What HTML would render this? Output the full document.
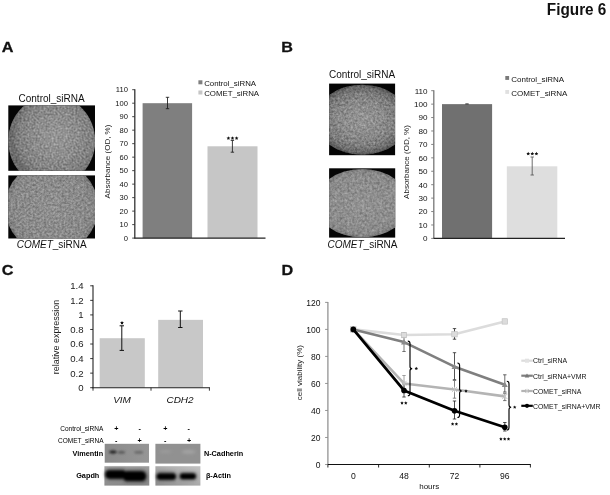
<!DOCTYPE html>
<html><head><meta charset="utf-8"><title>Figure 6</title>
<style>
html,body{margin:0;padding:0;background:#fff;}
body{width:610px;height:495px;overflow:hidden;font-family:"Liberation Sans",sans-serif;}
svg{display:block;filter:grayscale(1);font-family:"Liberation Sans",sans-serif;}
</style></head><body>
<svg width="610" height="495" viewBox="0 0 610 495">
<defs>
<filter id="nA1" x="0" y="0" width="100%" height="100%" color-interpolation-filters="sRGB">
<feTurbulence type="fractalNoise" baseFrequency="0.5" numOctaves="2" seed="3" result="t"/>
<feColorMatrix in="t" type="matrix" values="0.42 0 0 0 0.315  0.42 0 0 0 0.315  0.42 0 0 0 0.315   0 0 0 0 1" result="g"/>
<feComposite in="g" in2="SourceGraphic" operator="in"/>
</filter>
<filter id="nA2" x="0" y="0" width="100%" height="100%" color-interpolation-filters="sRGB">
<feTurbulence type="fractalNoise" baseFrequency="0.45" numOctaves="2" seed="11" result="t"/>
<feColorMatrix in="t" type="matrix" values="0.36 0 0 0 0.365  0.36 0 0 0 0.365  0.36 0 0 0 0.365   0 0 0 0 1" result="g"/>
<feComposite in="g" in2="SourceGraphic" operator="in"/>
</filter>
<filter id="nB1" x="0" y="0" width="100%" height="100%" color-interpolation-filters="sRGB">
<feTurbulence type="fractalNoise" baseFrequency="0.45" numOctaves="2" seed="7" result="t"/>
<feColorMatrix in="t" type="matrix" values="0.42 0 0 0 0.305  0.42 0 0 0 0.305  0.42 0 0 0 0.305   0 0 0 0 1" result="g"/>
<feComposite in="g" in2="SourceGraphic" operator="in"/>
</filter>
<filter id="nB2" x="0" y="0" width="100%" height="100%" color-interpolation-filters="sRGB">
<feTurbulence type="fractalNoise" baseFrequency="0.4" numOctaves="2" seed="19" result="t"/>
<feColorMatrix in="t" type="matrix" values="0.34 0 0 0 0.385  0.34 0 0 0 0.385  0.34 0 0 0 0.385   0 0 0 0 1" result="g"/>
<feComposite in="g" in2="SourceGraphic" operator="in"/>
</filter>

<filter id="b1" x="-30%" y="-80%" width="160%" height="260%"><feGaussianBlur stdDeviation="1.1"/></filter>
<filter id="b2" x="-30%" y="-80%" width="160%" height="260%"><feGaussianBlur stdDeviation="1.5"/></filter>
<linearGradient id="gV" x1="0" y1="0" x2="1" y2="0"><stop offset="0" stop-color="#8a8a8a"/><stop offset="1" stop-color="#969696"/></linearGradient>
<linearGradient id="gG" x1="0" y1="0" x2="0.3" y2="1"><stop offset="0" stop-color="#a4a4a4"/><stop offset="1" stop-color="#8a8a8a"/></linearGradient>
<linearGradient id="gA" x1="0" y1="1" x2="1" y2="0"><stop offset="0" stop-color="#8c8c8c"/><stop offset="0.6" stop-color="#b0b0b0"/><stop offset="1" stop-color="#c2c2c2"/></linearGradient>
<radialGradient id="vc" cx="55%" cy="45%" r="50%"><stop offset="0" stop-color="#fff" stop-opacity="0.14"/><stop offset="0.55" stop-color="#fff" stop-opacity="0.04"/><stop offset="0.8" stop-color="#000" stop-opacity="0.03"/><stop offset="0.93" stop-color="#000" stop-opacity="0.1"/><stop offset="1" stop-color="#000" stop-opacity="0.2"/></radialGradient>
<radialGradient id="vb" cx="50%" cy="50%" r="50%"><stop offset="0" stop-color="#fff" stop-opacity="0.14"/><stop offset="0.5" stop-color="#fff" stop-opacity="0.05"/><stop offset="0.75" stop-color="#000" stop-opacity="0.05"/><stop offset="0.92" stop-color="#000" stop-opacity="0.2"/><stop offset="1" stop-color="#000" stop-opacity="0.38"/></radialGradient>
<radialGradient id="vg" cx="50%" cy="50%" r="50%"><stop offset="0" stop-color="#fff" stop-opacity="0.05"/><stop offset="0.6" stop-color="#888" stop-opacity="0"/><stop offset="0.92" stop-color="#000" stop-opacity="0.05"/><stop offset="1" stop-color="#000" stop-opacity="0.16"/></radialGradient>
<clipPath id="cA1"><rect x="8.3" y="105.4" width="86.7" height="65.4"/></clipPath>
<clipPath id="cA2"><rect x="8.3" y="175.4" width="86.7" height="63.1"/></clipPath>
<clipPath id="cB1"><rect x="329.1" y="83.6" width="66.0" height="71.6"/></clipPath>
<clipPath id="cB2"><rect x="329.1" y="168.3" width="66.1" height="69.3"/></clipPath>
</defs>
<rect width="610" height="495" fill="#fff"/>

<text x="546.8" y="15.1" font-size="15.6" text-anchor="start" font-weight="bold" font-style="normal" fill="#111" textLength="59.6" lengthAdjust="spacingAndGlyphs">Figure 6</text>
<text x="1.8" y="51.9" font-size="15.5" text-anchor="start" font-weight="bold" font-style="normal" fill="#111" textLength="11.7" lengthAdjust="spacingAndGlyphs" stroke="#111" stroke-width="0.3">A</text>
<text x="281.2" y="51.9" font-size="15.5" text-anchor="start" font-weight="bold" font-style="normal" fill="#111" textLength="11.7" lengthAdjust="spacingAndGlyphs" stroke="#111" stroke-width="0.3">B</text>
<text x="1.8" y="275.2" font-size="15.5" text-anchor="start" font-weight="bold" font-style="normal" fill="#111" textLength="11.7" lengthAdjust="spacingAndGlyphs" stroke="#111" stroke-width="0.3">C</text>
<text x="281.4" y="275.2" font-size="15.5" text-anchor="start" font-weight="bold" font-style="normal" fill="#111" textLength="11.7" lengthAdjust="spacingAndGlyphs" stroke="#111" stroke-width="0.3">D</text>
<text x="51.6" y="102" font-size="10" text-anchor="middle" font-weight="normal" font-style="normal" fill="#111" >Control_siRNA</text>
<rect x="8.3" y="105.4" width="86.7" height="65.4" fill="#050505"/>
<g clip-path="url(#cA1)"><ellipse cx="51.7" cy="141" rx="43.5" ry="45.6" fill="#fff" filter="url(#nA1)"/><ellipse cx="51.7" cy="141" rx="43.5" ry="45.6" fill="url(#vc)"/></g>
<rect x="8.3" y="175.4" width="86.7" height="63.1" fill="#050505"/>
<g clip-path="url(#cA2)"><ellipse cx="51.6" cy="207.3" rx="46.5" ry="46.5" fill="#fff" filter="url(#nA2)"/><ellipse cx="51.6" cy="207.3" rx="46.5" ry="46.5" fill="url(#vg)"/></g>
<text x="51.7" y="247.7" font-size="10" text-anchor="middle" fill="#111"><tspan font-style="italic">COMET</tspan>_siRNA</text>
<rect x="142.6" y="103.19" width="49.50" height="134.91" fill="#7f7f7f"/>
<rect x="207.5" y="146.29" width="50.00" height="91.81" fill="#c6c6c6"/>
<line x1="134.8" y1="89.3" x2="134.8" y2="238.6" stroke="#333" stroke-width="1.3" />
<line x1="134.3" y1="238.1" x2="265.5" y2="238.1" stroke="#222" stroke-width="1.1" />
<line x1="132.20000000000002" y1="238.10" x2="134.8" y2="238.10" stroke="#333" stroke-width="0.9" />
<text x="127.9" y="240.84" font-size="7.6" text-anchor="end" font-weight="normal" font-style="normal" fill="#111" >0</text>
<line x1="132.20000000000002" y1="224.61" x2="134.8" y2="224.61" stroke="#333" stroke-width="0.9" />
<text x="127.9" y="227.35" font-size="7.6" text-anchor="end" font-weight="normal" font-style="normal" fill="#111" >10</text>
<line x1="132.20000000000002" y1="211.12" x2="134.8" y2="211.12" stroke="#333" stroke-width="0.9" />
<text x="127.9" y="213.85" font-size="7.6" text-anchor="end" font-weight="normal" font-style="normal" fill="#111" >20</text>
<line x1="132.20000000000002" y1="197.63" x2="134.8" y2="197.63" stroke="#333" stroke-width="0.9" />
<text x="127.9" y="200.36" font-size="7.6" text-anchor="end" font-weight="normal" font-style="normal" fill="#111" >30</text>
<line x1="132.20000000000002" y1="184.14" x2="134.8" y2="184.14" stroke="#333" stroke-width="0.9" />
<text x="127.9" y="186.87" font-size="7.6" text-anchor="end" font-weight="normal" font-style="normal" fill="#111" >40</text>
<line x1="132.20000000000002" y1="170.65" x2="134.8" y2="170.65" stroke="#333" stroke-width="0.9" />
<text x="127.9" y="173.38" font-size="7.6" text-anchor="end" font-weight="normal" font-style="normal" fill="#111" >50</text>
<line x1="132.20000000000002" y1="157.15" x2="134.8" y2="157.15" stroke="#333" stroke-width="0.9" />
<text x="127.9" y="159.89" font-size="7.6" text-anchor="end" font-weight="normal" font-style="normal" fill="#111" >60</text>
<line x1="132.20000000000002" y1="143.66" x2="134.8" y2="143.66" stroke="#333" stroke-width="0.9" />
<text x="127.9" y="146.40" font-size="7.6" text-anchor="end" font-weight="normal" font-style="normal" fill="#111" >70</text>
<line x1="132.20000000000002" y1="130.17" x2="134.8" y2="130.17" stroke="#333" stroke-width="0.9" />
<text x="127.9" y="132.91" font-size="7.6" text-anchor="end" font-weight="normal" font-style="normal" fill="#111" >80</text>
<line x1="132.20000000000002" y1="116.68" x2="134.8" y2="116.68" stroke="#333" stroke-width="0.9" />
<text x="127.9" y="119.42" font-size="7.6" text-anchor="end" font-weight="normal" font-style="normal" fill="#111" >90</text>
<line x1="132.20000000000002" y1="103.19" x2="134.8" y2="103.19" stroke="#333" stroke-width="0.9" />
<text x="127.9" y="105.93" font-size="7.6" text-anchor="end" font-weight="normal" font-style="normal" fill="#111" >100</text>
<line x1="132.20000000000002" y1="89.70" x2="134.8" y2="89.70" stroke="#333" stroke-width="0.9" />
<text x="127.9" y="92.44" font-size="7.6" text-anchor="end" font-weight="normal" font-style="normal" fill="#111" >110</text>
<line x1="167.5" y1="97.3" x2="167.5" y2="108.7" stroke="#1a1a1a" stroke-width="0.85" /><line x1="165.8" y1="97.3" x2="169.2" y2="97.3" stroke="#1a1a1a" stroke-width="0.85" /><line x1="165.8" y1="108.7" x2="169.2" y2="108.7" stroke="#1a1a1a" stroke-width="0.85" />
<line x1="232.4" y1="140.4" x2="232.4" y2="152.2" stroke="#1a1a1a" stroke-width="0.85" /><line x1="230.70000000000002" y1="140.4" x2="234.1" y2="140.4" stroke="#1a1a1a" stroke-width="0.85" /><line x1="230.70000000000002" y1="152.2" x2="234.1" y2="152.2" stroke="#1a1a1a" stroke-width="0.85" />
<polygon points="228.40,136.25 228.97,137.41 230.25,137.60 229.33,138.50 229.55,139.78 228.40,139.17 227.25,139.78 227.47,138.50 226.55,137.60 227.83,137.41" fill="#111"/><polygon points="232.50,136.25 233.07,137.41 234.35,137.60 233.43,138.50 233.65,139.78 232.50,139.17 231.35,139.78 231.57,138.50 230.65,137.60 231.93,137.41" fill="#111"/><polygon points="236.60,136.25 237.17,137.41 238.45,137.60 237.53,138.50 237.75,139.78 236.60,139.17 235.45,139.78 235.67,138.50 234.75,137.60 236.03,137.41" fill="#111"/>
<text transform="translate(109.8,161.5) rotate(-90)" font-size="8" text-anchor="middle" fill="#1a1a1a">Absorbance (OD, %)</text>
<rect x="198.4" y="80.3" width="4" height="4" fill="#7f7f7f"/>
<text x="204.2" y="85.5" font-size="7.85" text-anchor="start" font-weight="normal" font-style="normal" fill="#111" >Control_siRNA</text>
<rect x="198.4" y="90.5" width="4" height="4" fill="#c6c6c6"/>
<text x="204.2" y="95.8" font-size="7.85" text-anchor="start" font-weight="normal" font-style="normal" fill="#111" >COMET_siRNA</text>
<text x="362.1" y="78" font-size="10" text-anchor="middle" font-weight="normal" font-style="normal" fill="#111" >Control_siRNA</text>
<rect x="329.1" y="83.6" width="66" height="71.6" fill="#050505"/>
<g clip-path="url(#cB1)"><ellipse cx="362.1" cy="119.7" rx="46.5" ry="35.0" fill="#fff" filter="url(#nB1)"/><ellipse cx="362.1" cy="119.7" rx="46.5" ry="35.0" fill="url(#vb)"/></g>
<rect x="329.1" y="168.3" width="66.1" height="69.3" fill="#050505"/>
<g clip-path="url(#cB2)"><ellipse cx="362.1" cy="203.2" rx="46.5" ry="34.2" fill="#fff" filter="url(#nB2)"/><ellipse cx="362.1" cy="203.2" rx="46.5" ry="34.2" fill="url(#vg)"/></g>
<text x="362.5" y="247.5" font-size="10" text-anchor="middle" fill="#111"><tspan font-style="italic">COMET</tspan>_siRNA</text>
<rect x="442" y="104.13" width="50.10" height="134.27" fill="#707070"/>
<rect x="506.8" y="166.30" width="50.50" height="72.10" fill="#dedede"/>
<line x1="433.8" y1="90.3" x2="433.8" y2="238.9" stroke="#777" stroke-width="1.3" />
<line x1="433.3" y1="238.4" x2="565" y2="238.4" stroke="#222" stroke-width="1.1" />
<line x1="431.2" y1="238.40" x2="433.8" y2="238.40" stroke="#777" stroke-width="0.9" />
<text x="427.6" y="241.32" font-size="8.1" text-anchor="end" font-weight="normal" font-style="normal" fill="#111" >0</text>
<line x1="431.2" y1="224.97" x2="433.8" y2="224.97" stroke="#777" stroke-width="0.9" />
<text x="427.6" y="227.89" font-size="8.1" text-anchor="end" font-weight="normal" font-style="normal" fill="#111" >10</text>
<line x1="431.2" y1="211.55" x2="433.8" y2="211.55" stroke="#777" stroke-width="0.9" />
<text x="427.6" y="214.46" font-size="8.1" text-anchor="end" font-weight="normal" font-style="normal" fill="#111" >20</text>
<line x1="431.2" y1="198.12" x2="433.8" y2="198.12" stroke="#777" stroke-width="0.9" />
<text x="427.6" y="201.03" font-size="8.1" text-anchor="end" font-weight="normal" font-style="normal" fill="#111" >30</text>
<line x1="431.2" y1="184.69" x2="433.8" y2="184.69" stroke="#777" stroke-width="0.9" />
<text x="427.6" y="187.61" font-size="8.1" text-anchor="end" font-weight="normal" font-style="normal" fill="#111" >40</text>
<line x1="431.2" y1="171.26" x2="433.8" y2="171.26" stroke="#777" stroke-width="0.9" />
<text x="427.6" y="174.18" font-size="8.1" text-anchor="end" font-weight="normal" font-style="normal" fill="#111" >50</text>
<line x1="431.2" y1="157.84" x2="433.8" y2="157.84" stroke="#777" stroke-width="0.9" />
<text x="427.6" y="160.75" font-size="8.1" text-anchor="end" font-weight="normal" font-style="normal" fill="#111" >60</text>
<line x1="431.2" y1="144.41" x2="433.8" y2="144.41" stroke="#777" stroke-width="0.9" />
<text x="427.6" y="147.33" font-size="8.1" text-anchor="end" font-weight="normal" font-style="normal" fill="#111" >70</text>
<line x1="431.2" y1="130.98" x2="433.8" y2="130.98" stroke="#777" stroke-width="0.9" />
<text x="427.6" y="133.90" font-size="8.1" text-anchor="end" font-weight="normal" font-style="normal" fill="#111" >80</text>
<line x1="431.2" y1="117.55" x2="433.8" y2="117.55" stroke="#777" stroke-width="0.9" />
<text x="427.6" y="120.47" font-size="8.1" text-anchor="end" font-weight="normal" font-style="normal" fill="#111" >90</text>
<line x1="431.2" y1="104.13" x2="433.8" y2="104.13" stroke="#777" stroke-width="0.9" />
<text x="427.6" y="107.04" font-size="8.1" text-anchor="end" font-weight="normal" font-style="normal" fill="#111" >100</text>
<line x1="431.2" y1="90.70" x2="433.8" y2="90.70" stroke="#777" stroke-width="0.9" />
<text x="427.6" y="93.62" font-size="8.1" text-anchor="end" font-weight="normal" font-style="normal" fill="#111" >110</text>
<line x1="467" y1="103.7" x2="467" y2="104.5" stroke="#555" stroke-width="0.85" /><line x1="465.3" y1="103.7" x2="468.7" y2="103.7" stroke="#555" stroke-width="0.85" /><line x1="465.3" y1="104.5" x2="468.7" y2="104.5" stroke="#555" stroke-width="0.85" />
<line x1="532.2" y1="157" x2="532.2" y2="175" stroke="#555" stroke-width="0.85" /><line x1="530.5" y1="157" x2="533.9000000000001" y2="157" stroke="#555" stroke-width="0.85" /><line x1="530.5" y1="175" x2="533.9000000000001" y2="175" stroke="#555" stroke-width="0.85" />
<polygon points="528.20,151.75 528.77,152.91 530.05,153.10 529.13,154.00 529.35,155.28 528.20,154.67 527.05,155.28 527.27,154.00 526.35,153.10 527.63,152.91" fill="#111"/><polygon points="532.30,151.75 532.87,152.91 534.15,153.10 533.23,154.00 533.45,155.28 532.30,154.67 531.15,155.28 531.37,154.00 530.45,153.10 531.73,152.91" fill="#111"/><polygon points="536.40,151.75 536.97,152.91 538.25,153.10 537.33,154.00 537.55,155.28 536.40,154.67 535.25,155.28 535.47,154.00 534.55,153.10 535.83,152.91" fill="#111"/>
<text transform="translate(409,162) rotate(-90)" font-size="8" text-anchor="middle" fill="#1a1a1a">Absorbance (OD, %)</text>
<rect x="505.3" y="76" width="3.8" height="3.9" fill="#7a7a7a"/>
<text x="511.3" y="81.8" font-size="8" text-anchor="start" font-weight="normal" font-style="normal" fill="#111" >Control_siRNA</text>
<rect x="505.3" y="90" width="3.8" height="3.9" fill="#e0e0e0"/>
<text x="511.3" y="95.6" font-size="8" text-anchor="start" font-weight="normal" font-style="normal" fill="#111" >COMET_siRNA</text>
<rect x="99.7" y="338.21" width="45.1" height="49.49" fill="#c8c8c8"/>
<rect x="158.2" y="319.86" width="44.8" height="67.84" fill="#c8c8c8"/>
<line x1="93" y1="285.3" x2="93" y2="388.2" stroke="#222" stroke-width="1.1" />
<line x1="92.5" y1="387.7" x2="209.9" y2="387.7" stroke="#222" stroke-width="1.1" />
<line x1="90.2" y1="387.70" x2="93" y2="387.70" stroke="#222" stroke-width="0.9" />
<text x="83.6" y="391.10" font-size="9.6" text-anchor="end" font-weight="normal" font-style="normal" fill="#1a1a1a" >0</text>
<line x1="90.2" y1="373.14" x2="93" y2="373.14" stroke="#222" stroke-width="0.9" />
<text x="83.6" y="376.54" font-size="9.6" text-anchor="end" font-weight="normal" font-style="normal" fill="#1a1a1a" >0.2</text>
<line x1="90.2" y1="358.59" x2="93" y2="358.59" stroke="#222" stroke-width="0.9" />
<text x="83.6" y="361.99" font-size="9.6" text-anchor="end" font-weight="normal" font-style="normal" fill="#1a1a1a" >0.4</text>
<line x1="90.2" y1="344.03" x2="93" y2="344.03" stroke="#222" stroke-width="0.9" />
<text x="83.6" y="347.43" font-size="9.6" text-anchor="end" font-weight="normal" font-style="normal" fill="#1a1a1a" >0.6</text>
<line x1="90.2" y1="329.47" x2="93" y2="329.47" stroke="#222" stroke-width="0.9" />
<text x="83.6" y="332.87" font-size="9.6" text-anchor="end" font-weight="normal" font-style="normal" fill="#1a1a1a" >0.8</text>
<line x1="90.2" y1="314.91" x2="93" y2="314.91" stroke="#222" stroke-width="0.9" />
<text x="83.6" y="318.31" font-size="9.6" text-anchor="end" font-weight="normal" font-style="normal" fill="#1a1a1a" >1</text>
<line x1="90.2" y1="300.36" x2="93" y2="300.36" stroke="#222" stroke-width="0.9" />
<text x="83.6" y="303.76" font-size="9.6" text-anchor="end" font-weight="normal" font-style="normal" fill="#1a1a1a" >1.2</text>
<line x1="90.2" y1="285.80" x2="93" y2="285.80" stroke="#222" stroke-width="0.9" />
<text x="83.6" y="289.20" font-size="9.6" text-anchor="end" font-weight="normal" font-style="normal" fill="#1a1a1a" >1.4</text>
<line x1="93" y1="387.7" x2="93" y2="390.7" stroke="#222" stroke-width="0.9" />
<line x1="151" y1="387.7" x2="151" y2="390.7" stroke="#222" stroke-width="0.9" />
<line x1="209.4" y1="387.7" x2="209.4" y2="390.7" stroke="#222" stroke-width="0.9" />
<line x1="121.8" y1="325.8" x2="121.8" y2="350.4" stroke="#111" stroke-width="1" /><line x1="119.6" y1="325.8" x2="124.0" y2="325.8" stroke="#111" stroke-width="1" /><line x1="119.6" y1="350.4" x2="124.0" y2="350.4" stroke="#111" stroke-width="1" />
<line x1="180.3" y1="311" x2="180.3" y2="327.5" stroke="#111" stroke-width="1" /><line x1="178.10000000000002" y1="311" x2="182.5" y2="311" stroke="#111" stroke-width="1" /><line x1="178.10000000000002" y1="327.5" x2="182.5" y2="327.5" stroke="#111" stroke-width="1" />
<polygon points="122.00,320.95 122.57,322.11 123.85,322.30 122.93,323.20 123.15,324.48 122.00,323.88 120.85,324.48 121.07,323.20 120.15,322.30 121.43,322.11" fill="#111"/>
<text transform="translate(59,374.2) rotate(-90)" font-size="8.4" textLength="74.3" lengthAdjust="spacingAndGlyphs" fill="#1a1a1a">relative expression</text>
<text x="113.2" y="403.3" font-size="8.8" text-anchor="start" font-weight="normal" font-style="italic" fill="#111" textLength="17.7" lengthAdjust="spacingAndGlyphs">VIM</text>
<text x="166.5" y="403.3" font-size="8.8" text-anchor="start" font-weight="normal" font-style="italic" fill="#111" textLength="27.1" lengthAdjust="spacingAndGlyphs">CDH2</text>
<text x="103.3" y="430.7" font-size="6.5" text-anchor="end" font-weight="normal" font-style="normal" fill="#000" >Control_siRNA</text>
<text x="103.5" y="442.5" font-size="6.5" text-anchor="end" font-weight="normal" font-style="normal" fill="#000" >COMET_siRNA</text>
<text x="116.3" y="431" font-size="7.2" text-anchor="middle" font-weight="bold" font-style="normal" fill="#000" >+</text>
<text x="139.7" y="431" font-size="7.2" text-anchor="middle" font-weight="bold" font-style="normal" fill="#000" >-</text>
<text x="165.3" y="431" font-size="7.2" text-anchor="middle" font-weight="bold" font-style="normal" fill="#000" >+</text>
<text x="188.8" y="431" font-size="7.2" text-anchor="middle" font-weight="bold" font-style="normal" fill="#000" >-</text>
<text x="116.3" y="442.6" font-size="7.2" text-anchor="middle" font-weight="bold" font-style="normal" fill="#000" >-</text>
<text x="139.6" y="442.6" font-size="7.2" text-anchor="middle" font-weight="bold" font-style="normal" fill="#000" >+</text>
<text x="165.3" y="442.6" font-size="7.2" text-anchor="middle" font-weight="bold" font-style="normal" fill="#000" >-</text>
<text x="189.2" y="442.6" font-size="7.2" text-anchor="middle" font-weight="bold" font-style="normal" fill="#000" >+</text>
<rect x="104.7" y="443.8" width="44.3" height="18.9" fill="url(#gV)"/>
<g filter="url(#b1)"><ellipse cx="113" cy="452" rx="3.8" ry="1.7" fill="#2a2a2a"/><ellipse cx="121.5" cy="452.2" rx="3.6" ry="1.5" fill="#5c5c5c"/><ellipse cx="138.7" cy="452.2" rx="4.6" ry="1.5" fill="#6a6a6a"/></g>
<rect x="104.4" y="466.2" width="44.9" height="19.4" fill="url(#gG)"/>
<g filter="url(#b2)" opacity="0.55"><rect x="104.5" y="468.6" width="23" height="11.6" rx="5" fill="#333"/><rect x="122" y="469.6" width="25.5" height="13.2" rx="5.5" fill="#333"/></g>
<g filter="url(#b1)"><rect x="105.6" y="470.6" width="20.5" height="7.8" rx="3.8" fill="#060606"/><rect x="123" y="471.4" width="22.8" height="9.4" rx="4.4" fill="#060606"/></g>
<rect x="155.4" y="443.8" width="45" height="19.8" fill="#919191"/>
<g filter="url(#b2)"><ellipse cx="165.4" cy="451.6" rx="6" ry="1.5" fill="#9c9c9c"/><ellipse cx="188.6" cy="451.8" rx="7" ry="2" fill="#a3a3a3"/></g>
<rect x="155.4" y="466.2" width="45" height="19.4" fill="url(#gA)"/>
<g filter="url(#b2)" opacity="0.5"><rect x="155.6" y="471.6" width="21.5" height="9.6" rx="4.5" fill="#333"/><rect x="178.6" y="472" width="18.5" height="8.6" rx="4" fill="#333"/></g>
<g filter="url(#b1)"><rect x="157" y="473.6" width="18.6" height="5.8" rx="2.9" fill="#050505"/><rect x="180.2" y="473.5" width="15.4" height="5.4" rx="2.7" fill="#050505"/></g>
<text x="103.1" y="455.7" font-size="7.3" text-anchor="end" font-weight="bold" font-style="normal" fill="#000" >Vimentin</text>
<text x="99.3" y="478.3" font-size="7.3" text-anchor="end" font-weight="bold" font-style="normal" fill="#000" >Gapdh</text>
<text x="203.9" y="455.7" font-size="7.3" text-anchor="start" font-weight="bold" font-style="normal" fill="#000" >N-Cadherin</text>
<text x="205.9" y="478.3" font-size="7.3" text-anchor="start" font-weight="bold" font-style="normal" fill="#000" >β-Actin</text>
<line x1="327.9" y1="302" x2="327.9" y2="465.0" stroke="#8a8a8a" stroke-width="1.2" />
<line x1="327.4" y1="464.5" x2="530.8" y2="464.5" stroke="#111" stroke-width="1.1" />
<line x1="325.09999999999997" y1="464.50" x2="327.9" y2="464.50" stroke="#8a8a8a" stroke-width="0.9" />
<text x="320.4" y="468.40" font-size="8.5" text-anchor="end" font-weight="normal" font-style="normal" fill="#111" >0</text>
<line x1="325.09999999999997" y1="437.48" x2="327.9" y2="437.48" stroke="#8a8a8a" stroke-width="0.9" />
<text x="320.4" y="441.38" font-size="8.5" text-anchor="end" font-weight="normal" font-style="normal" fill="#111" >20</text>
<line x1="325.09999999999997" y1="410.46" x2="327.9" y2="410.46" stroke="#8a8a8a" stroke-width="0.9" />
<text x="320.4" y="414.36" font-size="8.5" text-anchor="end" font-weight="normal" font-style="normal" fill="#111" >40</text>
<line x1="325.09999999999997" y1="383.44" x2="327.9" y2="383.44" stroke="#8a8a8a" stroke-width="0.9" />
<text x="320.4" y="387.34" font-size="8.5" text-anchor="end" font-weight="normal" font-style="normal" fill="#111" >60</text>
<line x1="325.09999999999997" y1="356.42" x2="327.9" y2="356.42" stroke="#8a8a8a" stroke-width="0.9" />
<text x="320.4" y="360.32" font-size="8.5" text-anchor="end" font-weight="normal" font-style="normal" fill="#111" >80</text>
<line x1="325.09999999999997" y1="329.40" x2="327.9" y2="329.40" stroke="#8a8a8a" stroke-width="0.9" />
<text x="320.4" y="333.30" font-size="8.5" text-anchor="end" font-weight="normal" font-style="normal" fill="#111" >100</text>
<line x1="325.09999999999997" y1="302.38" x2="327.9" y2="302.38" stroke="#8a8a8a" stroke-width="0.9" />
<text x="320.4" y="306.28" font-size="8.5" text-anchor="end" font-weight="normal" font-style="normal" fill="#111" >120</text>
<line x1="327.9" y1="464.5" x2="327.9" y2="467.5" stroke="#111" stroke-width="0.9" />
<line x1="378.6" y1="464.5" x2="378.6" y2="467.5" stroke="#111" stroke-width="0.9" />
<line x1="429.3" y1="464.5" x2="429.3" y2="467.5" stroke="#111" stroke-width="0.9" />
<line x1="479.9" y1="464.5" x2="479.9" y2="467.5" stroke="#111" stroke-width="0.9" />
<line x1="530.4" y1="464.5" x2="530.4" y2="467.5" stroke="#111" stroke-width="0.9" />
<text x="353.3" y="478.9" font-size="8.6" text-anchor="middle" font-weight="normal" font-style="normal" fill="#111" >0</text>
<text x="404" y="478.9" font-size="8.6" text-anchor="middle" font-weight="normal" font-style="normal" fill="#111" >48</text>
<text x="454.5" y="478.9" font-size="8.6" text-anchor="middle" font-weight="normal" font-style="normal" fill="#111" >72</text>
<text x="504.8" y="478.9" font-size="8.6" text-anchor="middle" font-weight="normal" font-style="normal" fill="#111" >96</text>
<text x="429.2" y="488.5" font-size="8" text-anchor="middle" font-weight="normal" font-style="normal" fill="#111" >hours</text>
<text transform="translate(301.8,372.6) rotate(-90)" font-size="8" text-anchor="middle" fill="#1a1a1a">cell viability (%)</text>
<line x1="404" y1="332.9" x2="404" y2="337.3" stroke="#444" stroke-width="0.8" /><line x1="402.3" y1="332.9" x2="405.7" y2="332.9" stroke="#444" stroke-width="0.8" /><line x1="402.3" y1="337.3" x2="405.7" y2="337.3" stroke="#444" stroke-width="0.8" />
<line x1="454.5" y1="328.6" x2="454.5" y2="339.2" stroke="#222" stroke-width="0.8" /><line x1="452.8" y1="328.6" x2="456.2" y2="328.6" stroke="#222" stroke-width="0.8" /><line x1="452.8" y1="339.2" x2="456.2" y2="339.2" stroke="#222" stroke-width="0.8" />
<line x1="504.8" y1="319.9" x2="504.8" y2="322.9" stroke="#666" stroke-width="0.8" /><line x1="503.1" y1="319.9" x2="506.5" y2="319.9" stroke="#666" stroke-width="0.8" /><line x1="503.1" y1="322.9" x2="506.5" y2="322.9" stroke="#666" stroke-width="0.8" />
<line x1="404" y1="337.0" x2="404" y2="351.5" stroke="#555" stroke-width="0.8" /><line x1="402.3" y1="337.0" x2="405.7" y2="337.0" stroke="#555" stroke-width="0.8" /><line x1="402.3" y1="351.5" x2="405.7" y2="351.5" stroke="#555" stroke-width="0.8" />
<line x1="454.5" y1="352.7" x2="454.5" y2="379.7" stroke="#2a2a2a" stroke-width="0.8" /><line x1="452.8" y1="352.7" x2="456.2" y2="352.7" stroke="#2a2a2a" stroke-width="0.8" /><line x1="452.8" y1="379.7" x2="456.2" y2="379.7" stroke="#2a2a2a" stroke-width="0.8" />
<line x1="504.8" y1="374.8" x2="504.8" y2="392.0" stroke="#444" stroke-width="0.8" /><line x1="503.1" y1="374.8" x2="506.5" y2="374.8" stroke="#444" stroke-width="0.8" /><line x1="503.1" y1="392.0" x2="506.5" y2="392.0" stroke="#444" stroke-width="0.8" />
<line x1="404" y1="375.5" x2="404" y2="392.0" stroke="#8a8a8a" stroke-width="0.8" /><line x1="402.3" y1="375.5" x2="405.7" y2="375.5" stroke="#8a8a8a" stroke-width="0.8" /><line x1="402.3" y1="392.0" x2="405.7" y2="392.0" stroke="#8a8a8a" stroke-width="0.8" />
<line x1="454.5" y1="380.5" x2="454.5" y2="398.2" stroke="#666" stroke-width="0.8" /><line x1="452.8" y1="380.5" x2="456.2" y2="380.5" stroke="#666" stroke-width="0.8" /><line x1="452.8" y1="398.2" x2="456.2" y2="398.2" stroke="#666" stroke-width="0.8" />
<line x1="504.8" y1="393.3" x2="504.8" y2="400.6" stroke="#555" stroke-width="0.8" /><line x1="503.1" y1="393.3" x2="506.5" y2="393.3" stroke="#555" stroke-width="0.8" /><line x1="503.1" y1="400.6" x2="506.5" y2="400.6" stroke="#555" stroke-width="0.8" />
<line x1="404" y1="384.0" x2="404" y2="397.0" stroke="#222" stroke-width="0.8" /><line x1="402.3" y1="384.0" x2="405.7" y2="384.0" stroke="#222" stroke-width="0.8" /><line x1="402.3" y1="397.0" x2="405.7" y2="397.0" stroke="#222" stroke-width="0.8" />
<line x1="454.5" y1="401.0" x2="454.5" y2="419.0" stroke="#222" stroke-width="0.8" /><line x1="452.8" y1="401.0" x2="456.2" y2="401.0" stroke="#222" stroke-width="0.8" /><line x1="452.8" y1="419.0" x2="456.2" y2="419.0" stroke="#222" stroke-width="0.8" />
<line x1="504.8" y1="422.5" x2="504.8" y2="431.0" stroke="#222" stroke-width="0.8" /><line x1="503.1" y1="422.5" x2="506.5" y2="422.5" stroke="#222" stroke-width="0.8" /><line x1="503.1" y1="431.0" x2="506.5" y2="431.0" stroke="#222" stroke-width="0.8" />
<polyline points="353.3,329.40 404,335.07 454.5,334.26 504.8,321.43" fill="none" stroke="#dcdcdc" stroke-width="2.6" stroke-linejoin="round"/>
<rect x="350.6" y="326.70" width="5.4" height="5.4" fill="#dcdcdc" stroke="#bdbdbd" stroke-width="0.6"/>
<rect x="401.3" y="332.37" width="5.4" height="5.4" fill="#dcdcdc" stroke="#bdbdbd" stroke-width="0.6"/>
<rect x="451.8" y="331.56" width="5.4" height="5.4" fill="#dcdcdc" stroke="#bdbdbd" stroke-width="0.6"/>
<rect x="502.1" y="318.73" width="5.4" height="5.4" fill="#dcdcdc" stroke="#bdbdbd" stroke-width="0.6"/>
<polyline points="353.3,329.40 404,342.10 454.5,366.69 504.8,384.66" fill="none" stroke="#7f7f7f" stroke-width="2.6" stroke-linejoin="round"/>
<polygon points="353.3,326.40 356.3,331.80 350.3,331.80" fill="#8a8a8a"/>
<polygon points="404,339.10 407,344.50 401,344.50" fill="#8a8a8a"/>
<polygon points="454.5,363.69 457.5,369.09 451.5,369.09" fill="#8a8a8a"/>
<polygon points="504.8,381.66 507.8,387.06 501.8,387.06" fill="#8a8a8a"/>
<polyline points="353.3,329.40 404,383.44 454.5,389.52 504.8,396.41" fill="none" stroke="#b4b4b4" stroke-width="2.6" stroke-linejoin="round"/>
<path d="M350.7,326.80L355.90000000000003,332.00M350.7,332.00L355.90000000000003,326.80M353.3,326.60L353.3,332.20" stroke="#c4c4c4" stroke-width="0.9" fill="none"/>
<path d="M401.4,380.84L406.6,386.04M401.4,386.04L406.6,380.84M404,380.64L404,386.24" stroke="#c4c4c4" stroke-width="0.9" fill="none"/>
<path d="M451.9,386.92L457.1,392.12M451.9,392.12L457.1,386.92M454.5,386.72L454.5,392.32" stroke="#c4c4c4" stroke-width="0.9" fill="none"/>
<path d="M502.2,393.81L507.40000000000003,399.01M502.2,399.01L507.40000000000003,393.81M504.8,393.61L504.8,399.21" stroke="#c4c4c4" stroke-width="0.9" fill="none"/>
<polyline points="353.3,329.40 404,390.47 454.5,410.73 504.8,427.21" fill="none" stroke="#000" stroke-width="2.8" stroke-linejoin="round"/>
<circle cx="353.3" cy="329.40" r="2.8" fill="#000"/>
<circle cx="404" cy="390.47" r="2.8" fill="#000"/>
<circle cx="454.5" cy="410.73" r="2.8" fill="#000"/>
<circle cx="504.8" cy="427.21" r="2.8" fill="#000"/>
<path d="M407.8,341.1 Q410,341.1 410,343.6 L410,366.40000000000003 Q410,368.6 412.2,368.6 Q410,368.6 410,370.8 L410,393.2 Q410,395.7 407.8,395.7" fill="none" stroke="#000" stroke-width="1.15"/>
<path d="M457.40000000000003,363 Q459.6,363 459.6,365.5 L459.6,388.8 Q459.6,391 461.8,391 Q459.6,391 459.6,393.2 L459.6,415.0 Q459.6,417.5 457.40000000000003,417.5" fill="none" stroke="#000" stroke-width="1.15"/>
<path d="M506.8,381.2 Q509,381.2 509,383.7 L509,405.0 Q509,407.2 511.2,407.2 Q509,407.2 509,409.4 L509,427.5 Q509,430 506.8,430" fill="none" stroke="#000" stroke-width="1.15"/>
<polygon points="416.30,366.80 416.83,367.87 418.01,368.04 417.16,368.88 417.36,370.06 416.30,369.50 415.24,370.06 415.44,368.88 414.59,368.04 415.77,367.87" fill="#111"/>
<polygon points="466.00,389.20 466.53,390.27 467.71,390.44 466.86,391.28 467.06,392.46 466.00,391.90 464.94,392.46 465.14,391.28 464.29,390.44 465.47,390.27" fill="#111"/>
<polygon points="514.70,405.40 515.23,406.47 516.41,406.64 515.56,407.48 515.76,408.66 514.70,408.10 513.64,408.66 513.84,407.48 512.99,406.64 514.17,406.47" fill="#111"/>
<polygon points="402.00,401.20 402.53,402.27 403.71,402.44 402.86,403.28 403.06,404.46 402.00,403.90 400.94,404.46 401.14,403.28 400.29,402.44 401.47,402.27" fill="#111"/><polygon points="405.80,401.20 406.33,402.27 407.51,402.44 406.66,403.28 406.86,404.46 405.80,403.90 404.74,404.46 404.94,403.28 404.09,402.44 405.27,402.27" fill="#111"/>
<polygon points="452.60,422.20 453.13,423.27 454.31,423.44 453.46,424.28 453.66,425.46 452.60,424.90 451.54,425.46 451.74,424.28 450.89,423.44 452.07,423.27" fill="#111"/><polygon points="456.40,422.20 456.93,423.27 458.11,423.44 457.26,424.28 457.46,425.46 456.40,424.90 455.34,425.46 455.54,424.28 454.69,423.44 455.87,423.27" fill="#111"/>
<polygon points="500.90,437.20 501.43,438.27 502.61,438.44 501.76,439.28 501.96,440.46 500.90,439.90 499.84,440.46 500.04,439.28 499.19,438.44 500.37,438.27" fill="#111"/><polygon points="504.70,437.20 505.23,438.27 506.41,438.44 505.56,439.28 505.76,440.46 504.70,439.90 503.64,440.46 503.84,439.28 502.99,438.44 504.17,438.27" fill="#111"/><polygon points="508.50,437.20 509.03,438.27 510.21,438.44 509.36,439.28 509.56,440.46 508.50,439.90 507.44,440.46 507.64,439.28 506.79,438.44 507.97,438.27" fill="#111"/>
<line x1="521.3" y1="360.7" x2="532.8" y2="360.7" stroke="#dcdcdc" stroke-width="2.2" />
<text x="533" y="363.4" font-size="6.9" text-anchor="start" font-weight="normal" font-style="normal" fill="#111" >Ctrl_siRNA</text>
<line x1="521.3" y1="375.7" x2="532.8" y2="375.7" stroke="#7f7f7f" stroke-width="2.2" />
<text x="533" y="378.8" font-size="6.9" text-anchor="start" font-weight="normal" font-style="normal" fill="#111" >Ctrl_siRNA+VMR</text>
<line x1="521.3" y1="391" x2="532.8" y2="391" stroke="#b4b4b4" stroke-width="2.2" />
<text x="533" y="393.7" font-size="6.9" text-anchor="start" font-weight="normal" font-style="normal" fill="#111" >COMET_siRNA</text>
<line x1="521.3" y1="405.8" x2="532.8" y2="405.8" stroke="#000" stroke-width="2.2" />
<text x="533" y="408.9" font-size="6.9" text-anchor="start" font-weight="normal" font-style="normal" fill="#111" >COMET_siRNA+VMR</text>
<circle cx="527" cy="405.8" r="2.1" fill="#000"/>
<polygon points="527,373.6 529.3,377.4 524.7,377.4" fill="#777"/>
<path d="M525,389L529,393M525,393L529,389M527,388.8L527,393.2" stroke="#c8c8c8" stroke-width="0.8" fill="none"/>
<rect x="525" y="358.7" width="4" height="4" fill="#e2e2e2"/>
</svg></body></html>
